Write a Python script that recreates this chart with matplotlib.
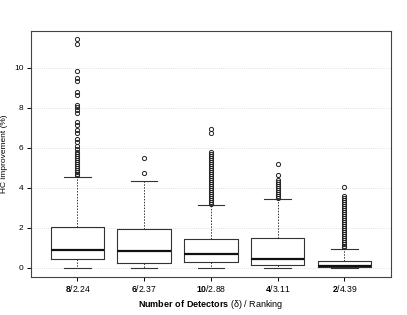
import matplotlib.pyplot as plt
import matplotlib as mpl

mpl.rcParams.update({
    'font.family': 'Liberation Sans',
    'mathtext.fontset': 'custom',
    'mathtext.rm': 'Liberation Sans',
    'mathtext.bf': 'Liberation Sans:bold',
    'font.size': 6,
    'axes.linewidth': 0.8,
    'xtick.major.size': 3.2,
    'ytick.major.size': 3.2,
    'xtick.major.width': 0.7,
    'ytick.major.width': 0.7,
})

# Data
detectors = ['8', '6', '10', '4', '2']
ranking = ['2.24', '2.37', '2.88', '3.11', '4.39']
q1 = [0.43, 0.25, 0.30, 0.15, 0.03]
med = [0.90, 0.85, 0.70, 0.45, 0.10]
q3 = [2.05, 1.95, 1.45, 1.50, 0.35]
whislo = [0.0, 0.0, 0.0, 0.0, 0.0]
whishi = [4.55, 4.35, 3.15, 3.45, 0.95]
fliers = [
    [11.45, 11.2, 9.85, 9.5, 9.35, 8.8, 8.65, 8.15, 8.05, 7.9, 7.75, 7.3, 7.15,
     6.9, 6.75, 6.45, 6.3, 6.1, 5.95, 5.8, 5.7, 5.6, 5.5, 5.4, 5.3, 5.2, 5.1,
     5.0, 4.9, 4.8, 4.7, 4.62],
    [5.5, 4.75],
    [6.95, 6.75, 5.8, 5.7, 5.6, 5.5, 5.4, 5.3, 5.2, 5.1, 5.0, 4.9, 4.8, 4.7,
     4.6, 4.5, 4.4, 4.3, 4.2, 4.1, 4.0, 3.9, 3.8, 3.7, 3.6, 3.5, 3.4, 3.3, 3.2],
    [5.2, 4.65, 4.4, 4.3, 4.2, 4.1, 4.0, 3.9, 3.8, 3.7, 3.6, 3.5],
    [4.05, 3.6, 3.5, 3.4, 3.3, 3.2, 3.1, 3.0, 2.9, 2.8, 2.7, 2.6, 2.5, 2.4,
     2.3, 2.2, 2.1, 2.0, 1.9, 1.8, 1.7, 1.6, 1.5, 1.4, 1.3, 1.2, 1.1, 1.02],
]

stats = []
for i in range(len(detectors)):
    stats.append({'q1': q1[i], 'med': med[i], 'q3': q3[i],
                  'whislo': whislo[i], 'whishi': whishi[i], 'fliers': fliers[i]})

fig = plt.figure(figsize=(4.07, 3.15), dpi=100)
ax = fig.add_axes([0.0754, 0.1206, 0.8853, 0.7819])

# light dotted grid
for yv in range(0, 11, 2):
    ax.axhline(yv, color='#d8d8d8', linestyle=(0, (1, 1.5)), linewidth=0.6, zorder=0)

ec = '#333333'
ax.bxp(stats, positions=range(1, 6), widths=0.8, showfliers=True,
       boxprops=dict(color=ec, linewidth=0.8),
       medianprops=dict(color='#111111', linewidth=1.6),
       whiskerprops=dict(color=ec, linewidth=0.7, linestyle=(0, (1.5, 1.5))),
       capprops=dict(color=ec, linewidth=0.8),
       capwidths=0.4,
       flierprops=dict(marker='o', markersize=3.0, markerfacecolor='none',
                       markeredgecolor='#222222', markeredgewidth=0.7))

ax.set_xlim(0.3, 5.7)
ax.set_ylim(-0.456, 11.856)
ax.set_yticks(range(0, 11, 2))
ax.set_xticks(range(1, 6))
ax.set_xticklabels([r'$\mathbf{%s}$/%s' % (d, r) for d, r in zip(detectors, ranking)],
                   fontsize=6.2)
ax.tick_params(axis='x', pad=0.8)
ax.tick_params(axis='y', pad=2)
for s in ax.spines.values():
    s.set_color('#444444')

ax.set_ylabel('HC improvement (%)', fontsize=6)
ax.yaxis.set_label_coords(-0.062, 0.5)
ax.set_xlabel(r'$\mathbf{Number\ of\ Detectors}$ (δ) / Ranking', fontsize=6.5, labelpad=3)

plt.savefig('out.png', dpi=100)
plt.close()
